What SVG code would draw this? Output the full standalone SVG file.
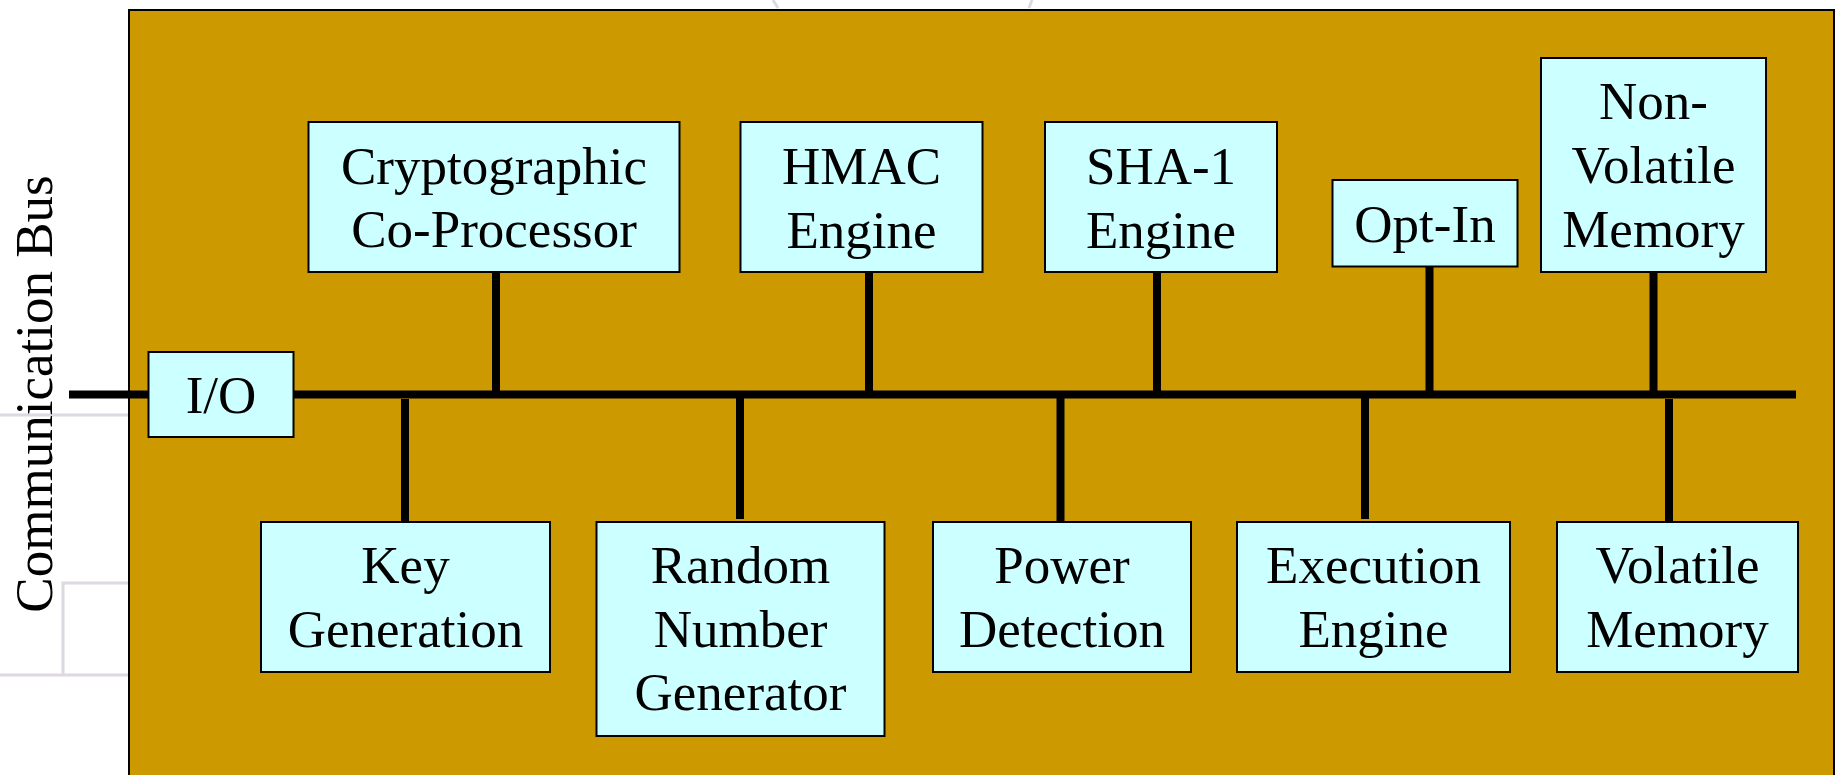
<svg xmlns="http://www.w3.org/2000/svg" width="1839" height="775" viewBox="0 0 1839 775">
<style>
.bg{fill:#FFFFFF}
.deco{fill:none;stroke:#DDD8E2;stroke-width:3}
.chip{fill:#CC9900;stroke:#000000;stroke-width:2}
.box{fill:#CCFFFF;stroke:#000000;stroke-width:2}
.wire{stroke:#000000;stroke-width:8;fill:none}
.lbl{font-family:"Liberation Serif","Times New Roman",serif;font-size:53px;fill:#000000;text-anchor:middle}
.side{font-family:"Liberation Serif","Times New Roman",serif;font-size:53px;fill:#000000;text-anchor:middle}
</style>
<rect class="bg" x="0" y="0" width="1839" height="775"/>
<g id="background-decoration">
<path class="deco" d="M0 415 H128 M0 675 H128 M63 675 V583 H128"/>
<path class="deco" d="M773 0 L778 8 M1032 0 L1029 8"/>
</g>
<rect id="chip" class="chip" x="129" y="10" width="1705" height="775"/>
<text class="side" transform="translate(52,394) rotate(-90)">Communication Bus</text>
<g id="connectors">
<line class="wire" x1="69" y1="394.5" x2="148" y2="394.5"/>
<line class="wire" x1="293" y1="394.5" x2="1796" y2="394.5"/>
<line class="wire" x1="496" y1="272" x2="496" y2="391"/>
<line class="wire" x1="869" y1="272" x2="869" y2="391"/>
<line class="wire" x1="1157" y1="272" x2="1157" y2="391"/>
<line class="wire" x1="1429.5" y1="267" x2="1429.5" y2="391"/>
<line class="wire" x1="1653.5" y1="272" x2="1653.5" y2="391"/>
<line class="wire" x1="405" y1="399" x2="405" y2="521"/>
<line class="wire" x1="740" y1="398" x2="740" y2="519"/>
<line class="wire" x1="1060.5" y1="398" x2="1060.5" y2="521"/>
<line class="wire" x1="1365" y1="398" x2="1365" y2="519"/>
<line class="wire" x1="1669" y1="399" x2="1669" y2="521"/>
</g>
<g id="io">
<rect class="box" x="148.5" y="352" width="145" height="85"/>
<text class="lbl" x="221" y="413">I/O</text>
</g>
<g id="crypto">
<rect class="box" x="308.5" y="122" width="371" height="150"/>
<text class="lbl" x="494" y="184">Cryptographic</text>
<text class="lbl" x="494" y="247">Co-Processor</text>
</g>
<g id="hmac">
<rect class="box" x="740.5" y="122" width="242" height="150"/>
<text class="lbl" x="861.5" y="184">HMAC</text>
<text class="lbl" x="861.5" y="248">Engine</text>
</g>
<g id="sha1">
<rect class="box" x="1045" y="122" width="232" height="150"/>
<text class="lbl" x="1161" y="184">SHA-1</text>
<text class="lbl" x="1161" y="248">Engine</text>
</g>
<g id="optin">
<rect class="box" x="1332.5" y="180" width="185" height="86.5"/>
<text class="lbl" x="1425" y="242">Opt-In</text>
</g>
<g id="nvm">
<rect class="box" x="1541" y="58" width="225" height="214"/>
<text class="lbl" x="1653.5" y="119">Non-</text>
<text class="lbl" x="1653.5" y="183">Volatile</text>
<text class="lbl" x="1653.5" y="247">Memory</text>
</g>
<g id="keygen">
<rect class="box" x="261" y="522" width="289" height="150"/>
<text class="lbl" x="405.5" y="583">Key</text>
<text class="lbl" x="405.5" y="647">Generation</text>
</g>
<g id="rng">
<rect class="box" x="596.5" y="522" width="288" height="214"/>
<text class="lbl" x="740.5" y="583">Random</text>
<text class="lbl" x="740.5" y="647">Number</text>
<text class="lbl" x="740.5" y="710">Generator</text>
</g>
<g id="power">
<rect class="box" x="933" y="522" width="258" height="150"/>
<text class="lbl" x="1062" y="583">Power</text>
<text class="lbl" x="1062" y="647">Detection</text>
</g>
<g id="exec">
<rect class="box" x="1237" y="522" width="273" height="150"/>
<text class="lbl" x="1373.5" y="583">Execution</text>
<text class="lbl" x="1373.5" y="647">Engine</text>
</g>
<g id="volatile">
<rect class="box" x="1557" y="522" width="241" height="150"/>
<text class="lbl" x="1677.5" y="583">Volatile</text>
<text class="lbl" x="1677.5" y="647">Memory</text>
</g>
</svg>
